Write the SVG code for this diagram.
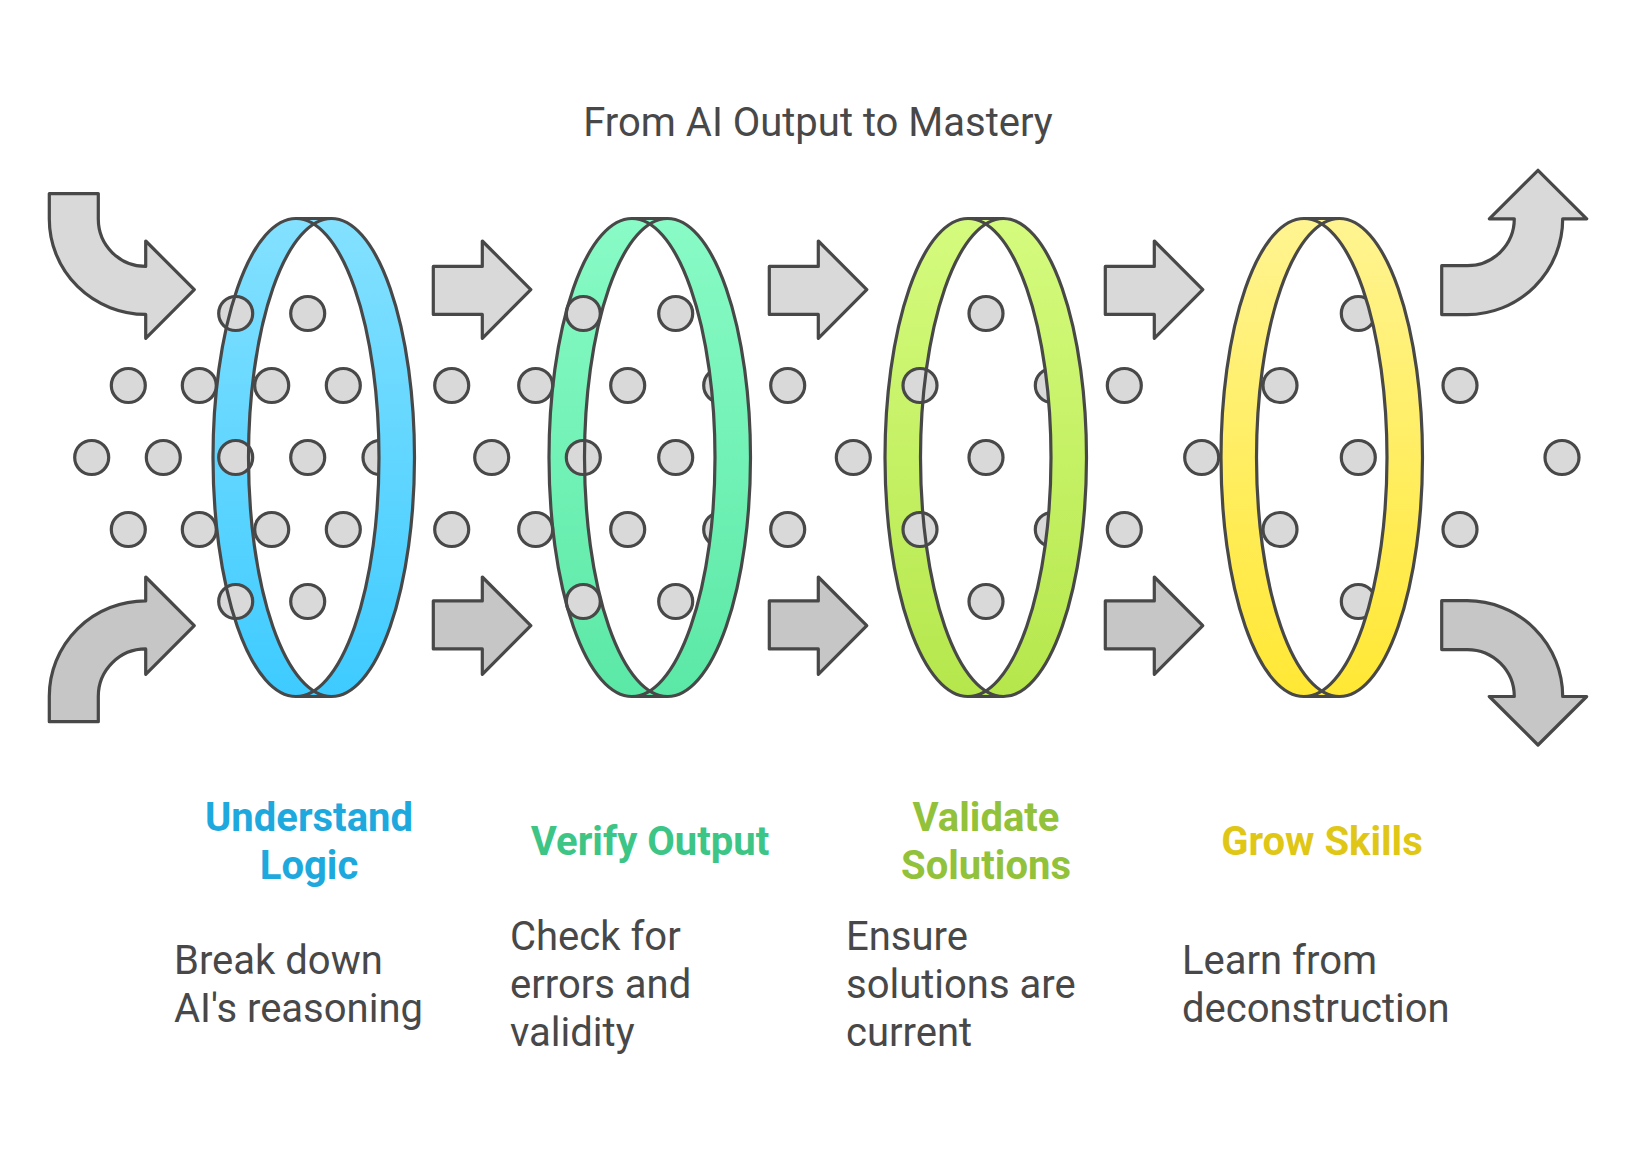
<svg xmlns="http://www.w3.org/2000/svg" width="1636" height="1156" viewBox="0 0 1636 1156">
<defs>
<linearGradient id="g1" x1="0" y1="0" x2="0" y2="1"><stop offset="0" stop-color="#84E1FF"/><stop offset="1" stop-color="#3ECBFF"/></linearGradient>
<linearGradient id="g2" x1="0" y1="0" x2="0" y2="1"><stop offset="0" stop-color="#89FBC6"/><stop offset="1" stop-color="#5BE8A6"/></linearGradient>
<linearGradient id="g3" x1="0" y1="0" x2="0" y2="1"><stop offset="0" stop-color="#D5FB7E"/><stop offset="1" stop-color="#B5E74C"/></linearGradient>
<linearGradient id="g4" x1="0" y1="0" x2="0" y2="1"><stop offset="0" stop-color="#FFF491"/><stop offset="1" stop-color="#FFE834"/></linearGradient>
</defs>
<style>
.ln{stroke:#484848;stroke-width:3.2;stroke-linejoin:round}
.no{fill:none}
.dot{fill:#D9D9D9;stroke:#484848;stroke-width:3.2}
.at{fill:#D9D9D9}
.ab{fill:#C6C6C6}
.lens{fill:#FFFFFF}
.t{font-family:Roboto,"Liberation Sans",sans-serif;font-size:40px;fill:#484848}
.h{font-family:Roboto,"Liberation Sans",sans-serif;font-size:40px;font-weight:bold;text-anchor:middle}
</style>
<rect width="1636" height="1156" fill="#FFFFFF"/>
<text class="t" x="818" y="136" text-anchor="middle">From AI Output to Mastery</text>

<g id="connectors">
<path class="ln at" d="M49.3,193.6 L98.3,193.6 L98.3,219 A47.4 47.4 0 0 0 145.7,266.4 L145.7,241 L194.3,289.6 L145.7,338.3 L145.7,314.4 A96.4 95.4 0 0 1 49.3,219 Z"/>
<path class="ln ab" d="M49.3,721.7 L49.3,696.3 A96.4 95.4 0 0 1 145.7,600.9 L145.7,577 L194.3,625.7 L145.7,674.3 L145.7,648.9 A47.4 47.4 0 0 0 98.3,696.3 L98.3,721.7 Z"/>
<g id="arrows-mid">
<path class="ln at" d="M433.3,266.4 L482.3,266.4 L482.3,241 L530.8,289.6 L482.3,338.3 L482.3,314.4 L433.3,314.4 Z"/>
<path class="ln ab" d="M433.3,600.9 L482.3,600.9 L482.3,577 L530.8,625.7 L482.3,674.3 L482.3,648.9 L433.3,648.9 Z"/>
<path class="ln at" transform="translate(336,0)" d="M433.3,266.4 L482.3,266.4 L482.3,241 L530.8,289.6 L482.3,338.3 L482.3,314.4 L433.3,314.4 Z"/>
<path class="ln ab" transform="translate(336,0)" d="M433.3,600.9 L482.3,600.9 L482.3,577 L530.8,625.7 L482.3,674.3 L482.3,648.9 L433.3,648.9 Z"/>
<path class="ln at" transform="translate(672,0)" d="M433.3,266.4 L482.3,266.4 L482.3,241 L530.8,289.6 L482.3,338.3 L482.3,314.4 L433.3,314.4 Z"/>
<path class="ln ab" transform="translate(672,0)" d="M433.3,600.9 L482.3,600.9 L482.3,577 L530.8,625.7 L482.3,674.3 L482.3,648.9 L433.3,648.9 Z"/>
</g>
<path class="ln at" d="M1441.7,265.7 L1467,265.7 A47 47 0 0 0 1514.3,218.8 L1489.3,218.8 L1538,170.3 L1586.7,218.8 L1562.7,218.8 A95.7 95.8 0 0 1 1467,314.6 L1441.7,314.6 Z"/>
<path class="ln ab" d="M1441.7,600.7 L1467,600.7 A95.7 95.8 0 0 1 1562.7,696.5 L1586.7,696.5 L1538,745 L1489.3,696.5 L1514.3,696.5 A47 47 0 0 0 1467,649.6 L1441.7,649.6 Z"/>
</g>

<g id="stage-1">
<path fill="url(#g1)" d="M296,218.5 L331.5,218.5 A83 239 0 0 1 331.5,696.5 L296,696.5 A83 239 0 0 1 296,218.5 Z"/>
<path class="lens" d="M313.75,224 A83 239 0 0 0 313.75,691 A83 239 0 0 0 313.75,224 Z"/>
<circle class="dot" cx="128.3" cy="385.5" r="17"/><circle class="dot" cx="199.3" cy="385.5" r="17"/><circle class="dot" cx="271.7" cy="385.5" r="17"/><circle class="dot" cx="343.3" cy="385.5" r="17"/>
<circle class="dot" cx="128.3" cy="529.5" r="17"/><circle class="dot" cx="199.3" cy="529.5" r="17"/><circle class="dot" cx="271.7" cy="529.5" r="17"/><circle class="dot" cx="343.3" cy="529.5" r="17"/>
<circle class="dot" cx="91.7" cy="457.5" r="17"/><circle class="dot" cx="163.3" cy="457.5" r="17"/><circle class="dot" cx="235.7" cy="457.5" r="17"/><circle class="dot" cx="307.7" cy="457.5" r="17"/><circle class="dot" cx="380" cy="457.5" r="17"/>
<circle class="dot" cx="235.7" cy="313.5" r="17"/><circle class="dot" cx="307.7" cy="313.5" r="17"/>
<circle class="dot" cx="235.7" cy="601.5" r="17"/><circle class="dot" cx="307.7" cy="601.5" r="17"/>
<path fill="url(#g1)" d="M313.75,224 A83 239 0 0 1 313.75,691 L313.75,696.5 L331.5,696.5 A83 239 0 0 0 331.5,218.5 L313.75,218.5 Z"/>
<ellipse class="ln no" cx="296" cy="457.5" rx="83" ry="239"/>
<ellipse class="ln no" cx="331.5" cy="457.5" rx="83" ry="239"/>
<path class="ln no" d="M296,218.5 L331.5,218.5 M296,696.5 L331.5,696.5"/>
<text class="h" fill="#1DA9DE"><tspan x="309" y="831">Understand</tspan><tspan x="309" y="879">Logic</tspan></text>
<text class="t"><tspan x="174" y="974">Break down</tspan><tspan x="174" y="1022">AI's reasoning</tspan></text>
</g>

<g id="stage-2">
<g transform="translate(336,0)">
<path fill="url(#g2)" d="M296,218.5 L331.5,218.5 A83 239 0 0 1 331.5,696.5 L296,696.5 A83 239 0 0 1 296,218.5 Z"/>
<path class="lens" d="M313.75,224 A83 239 0 0 0 313.75,691 A83 239 0 0 0 313.75,224 Z"/>
</g>
<circle class="dot" cx="451.7" cy="385.5" r="17"/><circle class="dot" cx="535.7" cy="385.5" r="17"/><circle class="dot" cx="627.7" cy="385.5" r="17"/><circle class="dot" cx="720.7" cy="385.5" r="17"/>
<circle class="dot" cx="451.7" cy="529.5" r="17"/><circle class="dot" cx="535.7" cy="529.5" r="17"/><circle class="dot" cx="627.7" cy="529.5" r="17"/><circle class="dot" cx="720.7" cy="529.5" r="17"/>
<circle class="dot" cx="491.7" cy="457.5" r="17"/><circle class="dot" cx="583.3" cy="457.5" r="17"/><circle class="dot" cx="675.7" cy="457.5" r="17"/>
<circle class="dot" cx="583.3" cy="313.5" r="17"/><circle class="dot" cx="675.7" cy="313.5" r="17"/>
<circle class="dot" cx="583.3" cy="601.5" r="17"/><circle class="dot" cx="675.7" cy="601.5" r="17"/>
<g transform="translate(336,0)">
<path fill="url(#g2)" d="M313.75,224 A83 239 0 0 1 313.75,691 L313.75,696.5 L331.5,696.5 A83 239 0 0 0 331.5,218.5 L313.75,218.5 Z"/>
<ellipse class="ln no" cx="296" cy="457.5" rx="83" ry="239"/>
<ellipse class="ln no" cx="331.5" cy="457.5" rx="83" ry="239"/>
<path class="ln no" d="M296,218.5 L331.5,218.5 M296,696.5 L331.5,696.5"/>
</g>
<text class="h" fill="#3CC585" x="650" y="855">Verify Output</text>
<text class="t"><tspan x="510" y="950">Check for</tspan><tspan x="510" y="998">errors and</tspan><tspan x="510" y="1046">validity</tspan></text>
</g>

<g id="stage-3">
<g transform="translate(672,0)">
<path fill="url(#g3)" d="M296,218.5 L331.5,218.5 A83 239 0 0 1 331.5,696.5 L296,696.5 A83 239 0 0 1 296,218.5 Z"/>
<path class="lens" d="M313.75,224 A83 239 0 0 0 313.75,691 A83 239 0 0 0 313.75,224 Z"/>
</g>
<circle class="dot" cx="787.7" cy="385.5" r="17"/><circle class="dot" cx="920" cy="385.5" r="17"/><circle class="dot" cx="1052.3" cy="385.5" r="17"/>
<circle class="dot" cx="787.7" cy="529.5" r="17"/><circle class="dot" cx="920" cy="529.5" r="17"/><circle class="dot" cx="1052.3" cy="529.5" r="17"/>
<circle class="dot" cx="853.3" cy="457.5" r="17"/><circle class="dot" cx="986" cy="457.5" r="17"/>
<circle class="dot" cx="986" cy="313.5" r="17"/><circle class="dot" cx="986" cy="601.5" r="17"/>
<g transform="translate(672,0)">
<path fill="url(#g3)" d="M313.75,224 A83 239 0 0 1 313.75,691 L313.75,696.5 L331.5,696.5 A83 239 0 0 0 331.5,218.5 L313.75,218.5 Z"/>
<ellipse class="ln no" cx="296" cy="457.5" rx="83" ry="239"/>
<ellipse class="ln no" cx="331.5" cy="457.5" rx="83" ry="239"/>
<path class="ln no" d="M296,218.5 L331.5,218.5 M296,696.5 L331.5,696.5"/>
</g>
<text class="h" fill="#92C13A"><tspan x="986" y="831">Validate</tspan><tspan x="986" y="879">Solutions</tspan></text>
<text class="t"><tspan x="846" y="950">Ensure</tspan><tspan x="846" y="998">solutions are</tspan><tspan x="846" y="1046">current</tspan></text>
</g>

<g id="stage-4">
<g transform="translate(1008,0)">
<path fill="url(#g4)" d="M296,218.5 L331.5,218.5 A83 239 0 0 1 331.5,696.5 L296,696.5 A83 239 0 0 1 296,218.5 Z"/>
<path class="lens" d="M313.75,224 A83 239 0 0 0 313.75,691 A83 239 0 0 0 313.75,224 Z"/>
</g>
<circle class="dot" cx="1124.3" cy="385.5" r="17"/><circle class="dot" cx="1280" cy="385.5" r="17"/><circle class="dot" cx="1460" cy="385.5" r="17"/>
<circle class="dot" cx="1124.3" cy="529.5" r="17"/><circle class="dot" cx="1280" cy="529.5" r="17"/><circle class="dot" cx="1460" cy="529.5" r="17"/>
<circle class="dot" cx="1201.7" cy="457.5" r="17"/><circle class="dot" cx="1358.3" cy="457.5" r="17"/><circle class="dot" cx="1562" cy="457.5" r="17"/>
<circle class="dot" cx="1358.3" cy="313.5" r="17"/><circle class="dot" cx="1358.3" cy="601.5" r="17"/>
<g transform="translate(1008,0)">
<path fill="url(#g4)" d="M313.75,224 A83 239 0 0 1 313.75,691 L313.75,696.5 L331.5,696.5 A83 239 0 0 0 331.5,218.5 L313.75,218.5 Z"/>
<ellipse class="ln no" cx="296" cy="457.5" rx="83" ry="239"/>
<ellipse class="ln no" cx="331.5" cy="457.5" rx="83" ry="239"/>
<path class="ln no" d="M296,218.5 L331.5,218.5 M296,696.5 L331.5,696.5"/>
</g>
<text class="h" fill="#E0C715" x="1322" y="855">Grow Skills</text>
<text class="t"><tspan x="1182" y="974">Learn from</tspan><tspan x="1182" y="1022">deconstruction</tspan></text>
</g>
</svg>
